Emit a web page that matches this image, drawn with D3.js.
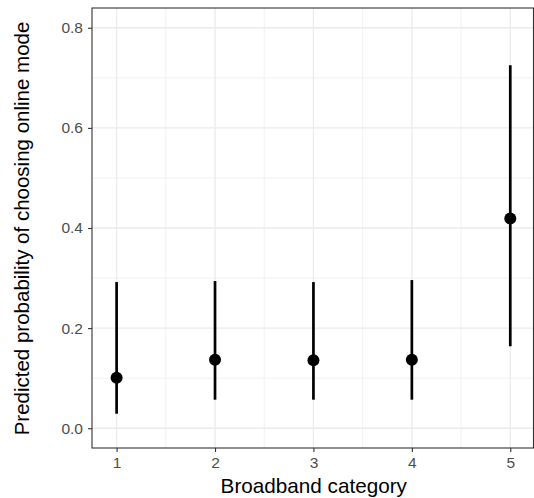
<!DOCTYPE html>
<html><head><meta charset="utf-8">
<script src="https://cdn.jsdelivr.net/npm/d3@7"></script>
<style>body{margin:0;background:#fff}svg{display:block}text{font-family:"Liberation Sans",Arial,sans-serif}</style>
</head><body>
<script>
const categories = [1, 2, 3, 4, 5];
const estimates = [0.101, 0.137, 0.136, 0.137, 0.419];
const lowers = [0.029, 0.057, 0.057, 0.057, 0.164];
const uppers = [0.292, 0.294, 0.292, 0.296, 0.725];
const yTicks = [0.0, 0.2, 0.4, 0.6, 0.8];
const yMinor = [0.1, 0.3, 0.5, 0.7];
const xMinor = [1.5, 2.5, 3.5, 4.5];

const W = 534, H = 498;
const L = 92, R = 533.5, T = 8, B = 448;
const svg = d3.select("body").append("svg").attr("width", W).attr("height", H);
const x = d3.scaleLinear().domain([0.75, 5.236]).range([L, R]);
const y = d3.scaleLinear().domain([-0.0395, 0.8395]).range([B, T]);

const g = svg.append("g");
// minor grid
g.selectAll(".ym").data(yMinor).join("line").attr("x1", L).attr("x2", R)
  .attr("y1", d => y(d)).attr("y2", d => y(d)).attr("stroke", "#EBEBEB").attr("stroke-width", 0.7);
g.selectAll(".xm").data(xMinor).join("line").attr("y1", T).attr("y2", B)
  .attr("x1", d => x(d)).attr("x2", d => x(d)).attr("stroke", "#EBEBEB").attr("stroke-width", 0.7);
// major grid
g.selectAll(".yM").data(yTicks).join("line").attr("x1", L).attr("x2", R)
  .attr("y1", d => y(d)).attr("y2", d => y(d)).attr("stroke", "#EBEBEB").attr("stroke-width", 1.3);
g.selectAll(".xM").data(categories).join("line").attr("y1", T).attr("y2", B)
  .attr("x1", d => x(d)).attr("x2", d => x(d)).attr("stroke", "#EBEBEB").attr("stroke-width", 1.3);

// ranges
g.selectAll(".rng").data(categories).join("line")
  .attr("x1", d => x(d)).attr("x2", d => x(d))
  .attr("y1", (d, i) => y(lowers[i])).attr("y2", (d, i) => y(uppers[i]))
  .attr("stroke", "#000").attr("stroke-width", 2.7);
g.selectAll(".pt").data(categories).join("circle")
  .attr("cx", d => x(d)).attr("cy", (d, i) => y(estimates[i])).attr("r", 6).attr("fill", "#000");

// border
svg.append("rect").attr("x", L).attr("y", T).attr("width", R - L).attr("height", B - T)
  .attr("fill", "none").attr("stroke", "#333333").attr("stroke-width", 1.1);

// axes
const yAxis = d3.axisLeft(y).tickValues(yTicks).tickFormat(d3.format(".1f")).tickSize(4).tickPadding(5);
const ya = svg.append("g").attr("transform", `translate(${L},0)`).call(yAxis);
const xAxis = d3.axisBottom(x).tickValues(categories).tickFormat(d3.format("d")).tickSize(4).tickPadding(5);
const xa = svg.append("g").attr("transform", `translate(0,${B})`).call(xAxis);
[ya, xa].forEach(a => {
  a.select(".domain").remove();
  a.selectAll(".tick line").attr("stroke", "#333333").attr("stroke-width", 1.1);
  a.selectAll(".tick text").attr("fill", "#4D4D4D").style("font-size", "15.5px").style("font-family", "'Liberation Sans',Arial,sans-serif");
});

svg.append("text").attr("x", (L + R) / 2 + 1).attr("y", 493).attr("text-anchor", "middle")
  .style("font-size", "20.7px").attr("fill", "#000").text("Broadband category");
svg.append("text").attr("transform", `translate(28.5,228.5) rotate(-90)`).attr("text-anchor", "middle")
  .style("font-size", "20.5px").attr("fill", "#000").text("Predicted probability of choosing online mode");
</script>
</body></html>
